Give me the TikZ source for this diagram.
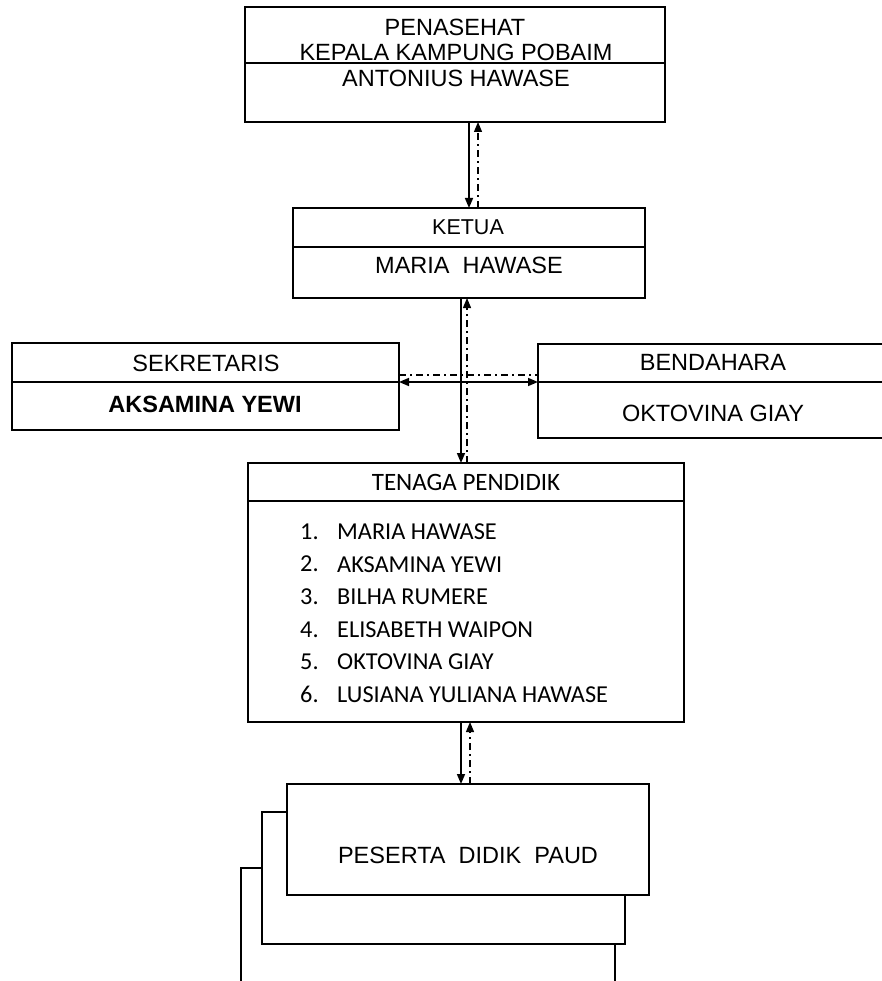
\documentclass[tikz,border=0pt]{standalone}
\usepackage{fontspec}
\setmainfont{Liberation Sans}
\newfontfamily\listfont{Carlito}
\usetikzlibrary{arrows.meta, positioning}

\begin{document}
\begin{tikzpicture}[
        x = 1pt, y = -1pt,
        >= {Triangle[length = 10pt, width = 8pt]},
        box/.style = {draw, line width = 1.6pt, fill = white, inner sep = 0pt,
                      outer sep = 0pt, anchor = north west},
        cut/.style = {line width = 1.6pt},
        word/.style = {inner sep = 0pt, font = \fontsize{23.5}{28}\selectfont},
        small word/.style = {inner sep = 0pt, font = \fontsize{21.5}{26}\selectfont},
        member/.style = {inner sep = 0pt, anchor = west, font = \listfont\fontsize{24.3}{29}\selectfont},
        link/.style = {line width = 1.6pt},
        back link/.style = {line width = 1.2pt, dash pattern = on 7pt off 4pt on 2pt off 4pt}
    ]
      \useasboundingbox (0,0) rectangle (882,981);
      \clip (0,0) rectangle (882,981);

      % boxes
      \node[box, minimum width = 420, minimum height = 115] (pen) at (245,7) {};
      \node[box, minimum width = 352, minimum height = 90]  (ket) at (293,208) {};
      \node[box, minimum width = 387, minimum height = 87]  (sek) at (12,343) {};
      \node[box, minimum width = 360, minimum height = 94]  (ben) at (538,344) {};
      \node[box, minimum width = 436, minimum height = 259] (ten) at (248,463) {};

      \node[box, minimum width = 374, minimum height = 130] (psd3) at (241,868) {};
      \node[box, minimum width = 363, minimum height = 132] (psd2) at (262,812) {};
      \node[box, minimum width = 362, minimum height = 111] (psd)  at (287,784) {};

      % dividers
      \coordinate (pen-cut) at (0,63);
      \coordinate (ket-cut) at (0,247);
      \coordinate (sek-cut) at (0,382);
      \coordinate (ben-cut) at (0,382);
      \coordinate (ten-cut) at (0,501);
      \draw[cut] (pen.west |- pen-cut) -- (pen.east |- pen-cut);
      \draw[cut] (ket.west |- ket-cut) -- (ket.east |- ket-cut);
      \draw[cut] (sek.west |- sek-cut) -- (sek.east |- sek-cut);
      \draw[cut] (ben.west |- ben-cut) -- (ben.east |- ben-cut);
      \draw[cut] (ten.west |- ten-cut) -- (ten.east |- ten-cut);

      % texts
      \node[word] (pen-role) at (455,27) {PENASEHAT};
      \node[word] (pen-head) at (456,52) {KEPALA KAMPUNG POBAIM};
      \node[word] (pen-name) at (456,78) {ANTONIUS HAWASE};

      \node[small word] (ket-role) at (468,227) {KETUA};
      \node[word] (ket-name) at (469,265) {MARIA\ \ HAWASE};

      \node[word] (sek-role) at (206,363) {SEKRETARIS};
      \node[word, font = \bfseries\fontsize{23.5}{28}\selectfont] (sek-name) at (205,404) {AKSAMINA YEWI};

      \node[word] (ben-role) at (713,362) {BENDAHARA};
      \node[word] (ben-name) at (713,413) {OKTOVINA GIAY};

      \node[inner sep = 0pt, font = \listfont\fontsize{25}{30}\selectfont] (ten-role) at (466,482) {TENAGA PENDIDIK};
      \foreach \name [count = \i] in {MARIA HAWASE, AKSAMINA YEWI, BILHA RUMERE,
                                      ELISABETH WAIPON, OKTOVINA GIAY, LUSIANA YULIANA HAWASE} {
        \node[member] (ten-num-\i) at (300, 499 + 32.6*\i) {\i.};
        \node[member] (ten-name-\i) at (337, 499 + 32.6*\i) {\name};
      }

      \node[word] (psd-role) at (468,855) {PESERTA\ \ DIDIK\ \ PAUD};

      % connectors
      \coordinate (down-a) at (469,0);
      \coordinate (up-a)   at (478,0);
      \coordinate (down-b) at (461,0);
      \coordinate (up-b)   at (467,0);
      \coordinate (down-c) at (461,0);
      \coordinate (up-c)   at (470,0);
      \coordinate (side-a) at (0,382);
      \coordinate (side-b) at (0,375);

      \draw[link, ->] (pen.south -| down-a) -- (ket.north -| down-a);
      \draw[back link, ->] (ket.north -| up-a) -- (pen.south -| up-a);

      \draw[link, ->] (ket.south -| down-b) -- (ten.north -| down-b);
      \draw[back link, ->] (ten.north -| up-b) -- (ket.south -| up-b);

      \draw[link, <->] (sek.east |- side-a) -- (ben.west |- side-a);
      \draw[back link] (sek.east |- side-b) -- (ben.west |- side-b);

      \draw[link, ->] (ten.south -| down-c) -- (psd.north -| down-c);
      \draw[back link, ->] (psd.north -| up-c) -- (ten.south -| up-c);
    \end{tikzpicture}
\end{document}
